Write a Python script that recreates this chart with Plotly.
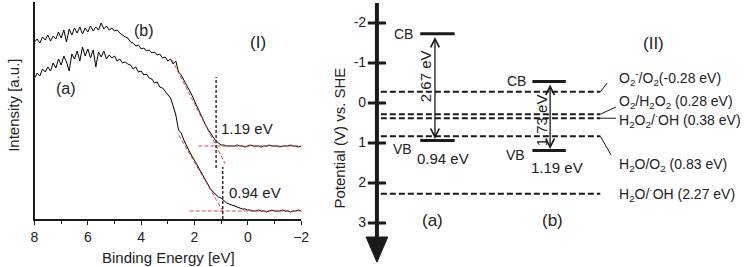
import plotly.graph_objects as go

# ---------------- data: panel (I) valence-band XPS ----------------
energy_ev = [round(8 - 0.1 * i, 1) for i in range(101)]

intensity_a = [141, 146, 143, 150, 147, 152, 148, 156, 151, 160,
               154, 163, 157, 148, 165, 160, 168, 158, 172, 163,
               170, 161, 169, 152, 167, 162, 168, 160, 164, 161,
               163, 158, 160, 156, 157, 155, 154, 150, 152, 147,
               148, 144, 145, 141, 140, 136, 137, 132, 131, 128,
               124, 121, 113, 104, 89, 86, 79, 73, 68, 63,
               59, 54, 49, 44, 39, 34, 30, 27, 24, 22,
               21, 18, 16, 15, 14, 13, 12, 11, 10, 10,
               9, 9, 8, 8, 9, 8, 8, 7, 8, 9,
               8, 8, 8, 9, 8, 8, 7, 8, 8, 9, 8]

intensity_b = [177, 180, 176, 182, 179, 184, 178, 183, 180, 187,
               181, 189, 177, 190, 184, 191, 186, 192, 185, 191,
               187, 193, 188, 192, 189, 196, 190, 193, 189, 191,
               188, 189, 186, 184, 182, 181, 177, 176, 173, 174,
               170, 171, 168, 169, 166, 167, 164, 165, 161, 162,
               158, 160, 155, 158, 147, 144, 139, 135, 130, 124,
               118, 112, 106, 100, 95, 90, 86, 82, 78, 76,
               74, 74, 73, 73, 73,
               73, 74, 73, 73, 72, 73, 74, 73, 73, 73,
               72, 73, 73, 74, 73, 73, 73, 72, 73, 73,
               73, 74, 73, 73, 72, 73]

onset_ev = [0.94, 1.19]          # (a), (b)
baseline = [8, 73]               # flat background level (a), (b)
edge_slope = [46, 52]            # slope of the leading-edge tangent
tangent_span = [[2.59, 0.93], [2.85, 0.85]]
baseline_start = [2.18, 1.85]

# ---------------- data: panel (II) band positions ----------------
samples = ["(a)", "(b)"]
cb_v = [-1.73, -0.54]
vb_v = [0.94, 1.19]
gap_labels = ["2.67 eV", "1.73 eV"]
vb_labels = ["0.94 eV", "1.19 eV"]
potential_ticks = [-2, -1, 0, 1, 2, 3]
redox_v = [-0.28, 0.28, 0.38, 0.83, 2.27]
redox_labels = ["O<sub>2</sub><sup>-</sup>/O<sub>2</sub>(-0.28 eV)",
                "O<sub>2</sub>/H<sub>2</sub>O<sub>2</sub> (0.28 eV)",
                "H<sub>2</sub>O<sub>2</sub>/<sup>·</sup>OH (0.38 eV)",
                "H<sub>2</sub>O/O<sub>2</sub> (0.83 eV)",
                "H<sub>2</sub>O/<sup>·</sup>OH (2.27 eV)"]

# ---------------- layout constants ----------------
W, H = 749, 267
FONT = "Liberation Sans, Arial, sans-serif"
RED = "#e0464a"
INK = "#1a1a1a"
fig = go.Figure()

# ---- panel I ----
for y in (intensity_a, intensity_b):
    fig.add_trace(go.Scatter(x=energy_ev, y=y, mode="lines",
                             line=dict(color="black", width=1), xaxis="x", yaxis="y",
                             showlegend=False, hoverinfo="skip"))

for i in range(2):
    x0, x1 = tangent_span[i]
    fig.add_trace(go.Scatter(
        x=[x0, x1],
        y=[baseline[i] + (x0 - onset_ev[i]) * edge_slope[i],
           baseline[i] + (x1 - onset_ev[i]) * edge_slope[i]],
        mode="lines", line=dict(color=RED, width=1, dash="4px,2px"),
        xaxis="x", yaxis="y", showlegend=False, hoverinfo="skip"))
    fig.add_trace(go.Scatter(
        x=[baseline_start[i], -2], y=[baseline[i], baseline[i]],
        mode="lines", line=dict(color=RED, width=1, dash="4px,2px"),
        xaxis="x", yaxis="y", showlegend=False, hoverinfo="skip"))

dotted_span = [[0, 52], [51, 142]]
for i in range(2):
    fig.add_trace(go.Scatter(
        x=[onset_ev[i], onset_ev[i]], y=dotted_span[i], mode="lines",
        line=dict(color="#333333", width=1.5, dash="3px,2px"),
        xaxis="x", yaxis="y", showlegend=False, hoverinfo="skip"))

ann = []
def txt(x, y, t, size=15, xref="x", yref="y", **kw):
    d = dict(x=x, y=y, text=t, xref=xref, yref=yref, showarrow=False,
             xanchor="center", yanchor="middle",
             font=dict(family=FONT, size=size, color="#222222"))
    d.update(kw)
    ann.append(d)

txt(3.89, 189, "(b)", 16)
txt(6.81, 131, "(a)", 16)
txt(-0.37, 177, "(I)", 17)
txt(0.04, 91, f"{onset_ev[1]:.2f} eV", 15)
txt(-0.26, 27, f"{onset_ev[0]:.2f} eV", 15)
txt(9 / W, 1 - 105 / H, "Intensity [a.u.]", 15, xref="paper", yref="paper", textangle=-90)
txt(167 / W, 1 - 257 / H, "Binding Energy [eV]", 15, xref="paper", yref="paper")

# ---- panel II ----  (x2 in layout units, y2 in volts vs SHE)
AX = 379
AX_TOP, AX_END = -2.5, 3.4
ARROW_TIP = 3.98
fig.add_trace(go.Scatter(x=[AX, AX], y=[AX_TOP, AX_END], mode="lines",
                         line=dict(color=INK, width=4),
                         xaxis="x2", yaxis="y2", showlegend=False, hoverinfo="skip"))
fig.add_trace(go.Scatter(x=[AX - 11, AX + 11, AX, AX - 11],
                         y=[AX_END - 0.05, AX_END - 0.05, ARROW_TIP, AX_END - 0.05],
                         mode="lines", fill="toself", fillcolor=INK,
                         line=dict(color=INK, width=1),
                         xaxis="x2", yaxis="y2", showlegend=False, hoverinfo="skip"))
fig.add_trace(go.Scatter(x=[AX] * len(potential_ticks), y=potential_ticks, mode="markers",
                         marker=dict(symbol="line-ew-open", size=13, color=INK,
                                     line=dict(color=INK, width=3)),
                         xaxis="x2", yaxis="y2", showlegend=False, hoverinfo="skip"))
fig.add_trace(go.Scatter(x=[AX - 11] * len(potential_ticks), y=potential_ticks,
                         mode="text", text=[str(t) for t in potential_ticks],
                         textposition="middle left",
                         textfont=dict(family=FONT, size=14, color="#222222"),
                         xaxis="x2", yaxis="y2", showlegend=False, hoverinfo="skip"))

# redox dashed levels
DASH_X0, DASH_X1 = 383, 606
for v in redox_v:
    fig.add_trace(go.Scatter(x=[DASH_X0, DASH_X1], y=[v, v], mode="lines",
                             line=dict(color=INK, width=2, dash="6px,3px"),
                             xaxis="x2", yaxis="y2", showlegend=False, hoverinfo="skip"))

LABEL_X = 623
label_y = [-0.625, -0.03, 0.43, 1.55, 2.28]
leader_end = [(613, -0.5), (622, 0.1), (622, 0.38), (617, 1.3), None]
for i, v in enumerate(redox_v):
    if leader_end[i] is not None:
        fig.add_trace(go.Scatter(x=[DASH_X1, leader_end[i][0]], y=[v, leader_end[i][1]],
                                 mode="lines", line=dict(color=INK, width=1),
                                 xaxis="x2", yaxis="y2", showlegend=False, hoverinfo="skip"))
    txt(LABEL_X, label_y[i], redox_labels[i], 14, xref="x2", yref="y2", xanchor="left")

# bands
band_x = [(423, 458), (537, 571)]
arrow_x = [438, 555]
for i in range(2):
    x0, x1 = band_x[i]
    for lvl in (cb_v[i], vb_v[i]):
        fig.add_trace(go.Scatter(x=[x0, x1], y=[lvl, lvl], mode="lines",
                                 line=dict(color=INK, width=3),
                                 xaxis="x2", yaxis="y2", showlegend=False, hoverinfo="skip"))
    ann.append(dict(x=arrow_x[i], y=vb_v[i] - 0.04, ax=arrow_x[i], ay=cb_v[i] + 0.04,
                    xref="x2", yref="y2", axref="x2", ayref="y2", text="",
                    showarrow=True, arrowhead=5, startarrowhead=5, arrowside="end+start",
                    arrowwidth=1.3, arrowsize=1.3, startarrowsize=1.3, arrowcolor=INK))

txt(406, cb_v[0], "CB", 14, xref="x2", yref="y2")
txt(405, vb_v[0] + 0.22, "VB", 14, xref="x2", yref="y2")
txt(446, vb_v[0] + 0.45, vb_labels[0], 15, xref="x2", yref="y2")
txt(428, -0.675, gap_labels[0], 15, xref="x2", yref="y2", textangle=-90)

txt(521, cb_v[1], "CB", 14, xref="x2", yref="y2")
txt(520, vb_v[1] + 0.1, "VB", 14, xref="x2", yref="y2")
txt(562, vb_v[1] + 0.42, vb_labels[1], 15, xref="x2", yref="y2")
txt(546, 0.425, gap_labels[1], 15, xref="x2", yref="y2", textangle=-90)

txt(435, 2.925, samples[0], 17, xref="x2", yref="y2")
txt(557, 2.925, samples[1], 17, xref="x2", yref="y2")
txt(660, -1.5, "(II)", 17, xref="x2", yref="y2")
txt(340 / W, 1 - 138 / H, "Potential (V) vs. SHE", 15, xref="paper", yref="paper",
    textangle=-90)

fig.update_layout(
    width=W, height=H, margin=dict(l=0, r=0, t=0, b=0),
    paper_bgcolor="white", plot_bgcolor="white",
    font=dict(family=FONT, size=14, color="#222222"),
    xaxis=dict(domain=[31 / W, 302 / W], range=[8, -2], showgrid=False, zeroline=False,
               showline=True, linecolor=INK, linewidth=1.5,
               tickvals=[8, 6, 4, 2, 0, -2], ticks="outside", ticklen=4, tickwidth=1.2,
               tickcolor=INK,
               minor=dict(tickvals=[7, 5, 3, 1, -1], ticks="outside", ticklen=3,
                          tickcolor=INK),
               tickfont=dict(family=FONT, size=14, color="#222222"), anchor="y"),
    yaxis=dict(domain=[(H - 219) / H, (H - 2) / H], range=[0, 217], showgrid=False,
               zeroline=False, showline=True, linecolor=INK, linewidth=1.5,
               showticklabels=False, ticks="", anchor="x"),
    xaxis2=dict(domain=[330 / W, 1], range=[330, 749], visible=False, anchor="y2"),
    yaxis2=dict(domain=[0, 1], range=[(H - 103) / 40, -103 / 40], visible=False,
                anchor="x2"),
    annotations=ann,
)

fig.write_html("out.html", config={"displayModeBar": False},
               post_script="document.body.style.margin='0';document.body.style.padding='0';")
